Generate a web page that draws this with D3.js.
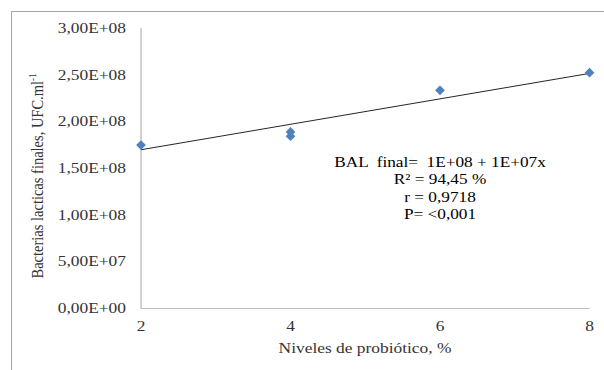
<!DOCTYPE html>
<html>
<head>
<meta charset="utf-8">
<script src="https://cdn.jsdelivr.net/npm/d3@7"></script>
<style>
  body { margin: 0; background: #fff; }
  svg { display: block; font-family: "Liberation Serif", "Times New Roman", serif; }
  text { white-space: pre; }
</style>
</head>
<body>
<svg id="chart" width="604" height="370"></svg>
<script>
// probiotic level (%) and final lactic acid bacteria count (UFC/ml)
const niveles = [2, 4, 4, 6, 8];
const bal = [1.746e8, 1.886e8, 1.840e8, 2.332e8, 2.521e8];
// trend line as drawn in the picture
const trendX = [2, 8];
const trendIntercept = 1.423e8;
const trendSlope = 1.363e7;
const yTicks = [0, 5e7, 1e8, 1.5e8, 2e8, 2.5e8, 3e8];
const xTicks = [2, 4, 6, 8];
const annotation = ['BAL  final=  1E+08 + 1E+07x', 'R² = 94,45 %', 'r = 0,9718', 'P= <0,001'];

// the source image is stretched sideways
const sx = 1.2;

const svg = d3.select('#chart');

svg.append('rect')
  .attr('x', 11.5).attr('y', 11.5)
  .attr('width', 640).attr('height', 400)
  .attr('fill', 'none').attr('stroke', '#a6a6a6');

const x = d3.scaleLinear().domain([2, 8]).range([141, 589.5]);
const y = d3.scaleLinear().domain([0, 3e8]).range([308, 28]);

const fmt = v => {
  const e = v === 0 ? 0 : Math.floor(Math.log10(v));
  const m = (v / Math.pow(10, e)).toFixed(2).replace('.', ',');
  return `${m}E+${String(e).padStart(2, '0')}`;
};

// axes
svg.append('line')
  .attr('x1', x(2)).attr('x2', x(2))
  .attr('y1', y(3e8)).attr('y2', y(0) + 0.5)
  .attr('stroke', '#a6a6a6');
svg.append('line')
  .attr('x1', x(2)).attr('x2', x(8))
  .attr('y1', y(0) + 0.5).attr('y2', y(0) + 0.5)
  .attr('stroke', '#bfbfbf');

svg.append('g')
  .selectAll('text')
  .data(yTicks)
  .join('text')
  .attr('transform', d => `translate(126,${y(d) + 5}) scale(${sx},1)`)
  .attr('text-anchor', 'end')
  .attr('font-size', 14.5)
  .attr('fill', '#333')
  .text(fmt);

svg.append('g')
  .selectAll('text')
  .data(xTicks)
  .join('text')
  .attr('transform', d => `translate(${x(d)},331) scale(${sx},1)`)
  .attr('text-anchor', 'middle')
  .attr('font-size', 14.5)
  .attr('fill', '#333')
  .text(d => d);

svg.append('text')
  .attr('transform', `translate(365,353) scale(${sx},1)`)
  .attr('text-anchor', 'middle')
  .attr('font-size', 14.5)
  .attr('fill', '#333')
  .text('Niveles de probiótico, %');

const yTitle = svg.append('text')
  .attr('transform', `translate(43,176) scale(${sx},1) rotate(-90)`)
  .attr('text-anchor', 'middle')
  .attr('font-size', 14.5)
  .attr('fill', '#333');
yTitle.append('tspan').text('Bacterias lacticas finales, UFC.ml');
yTitle.append('tspan').attr('dy', -6).attr('font-size', 9).text('-1');

// trend line
svg.append('path')
  .datum(trendX)
  .attr('fill', 'none')
  .attr('stroke', '#262626')
  .attr('stroke-width', 1)
  .attr('d', d3.line().x(d => x(d)).y(d => y(trendIntercept + trendSlope * d)));

// points
svg.append('g')
  .selectAll('path')
  .data(niveles.map((n, i) => [n, bal[i]]))
  .join('path')
  .attr('transform', d => `translate(${x(d[0])},${y(d[1])})`)
  .attr('d', d3.symbol(d3.symbolDiamond2, 60))
  .attr('fill', '#4f81bd');

svg.append('g')
  .selectAll('text')
  .data(annotation)
  .join('text')
  .attr('transform', (d, i) => `translate(440,${167 + i * 17.3}) scale(1.15,1)`)
  .attr('text-anchor', 'middle')
  .attr('font-size', 15)
  .attr('fill', '#000')
  .text(d => d);
</script>
</body>
</html>
